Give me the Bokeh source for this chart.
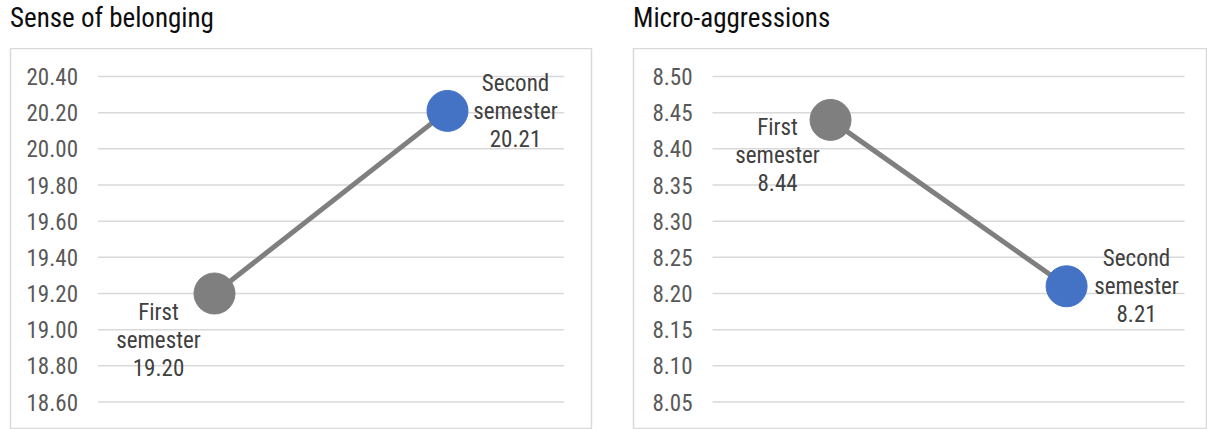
from bokeh.plotting import figure
from bokeh.layouts import row, column
from bokeh.models import Range1d, Div
from bokeh.core.properties import value
from bokeh.embed import file_html
from bokeh.resources import INLINE

# ---------------- data ----------------
categories = ["First semester", "Second semester"]
belonging_values = [19.20, 20.21]
micro_values = [8.44, 8.21]
belonging_ticks = [18.60, 18.80, 19.00, 19.20, 19.40, 19.60, 19.80, 20.00, 20.20, 20.40]
micro_ticks = [8.05, 8.10, 8.15, 8.20, 8.25, 8.30, 8.35, 8.40, 8.45, 8.50]
chart_titles = ["Sense of belonging", "Micro-aggressions"]

# ---------------- styles / layout ----------------
point_colors = ["#7f7f7f", "#4472c4"]
FONT = "Roboto Condensed"
TITLE_H = 48
HEIGHT = 429 - TITLE_H


def make_title(text, width, pad_left):
    return Div(text=f'<div style="padding:5px 0 0 {pad_left}px; margin:0; font-family:\'{FONT}\'; '
                    f'font-size:27px; line-height:27px; color:#0d0d0d; white-space:nowrap;">{text}</div>',
               width=width, height=TITLE_H, margin=(0, 0, 0, 0))


def make_chart(values, ticks, y_range, x_range, width, b_left, b_right, label_offsets):
    p = figure(width=width, height=HEIGHT, x_axis_type=None, y_axis_type=None,
               output_backend="svg", toolbar_location=None,
               min_border_left=b_left, min_border_right=b_right,
               min_border_top=0, min_border_bottom=0,
               x_range=Range1d(*x_range), y_range=Range1d(*y_range))
    p.background_fill_color = "white"
    p.border_fill_color = "white"
    p.outline_line_color = "#d9d9d9"
    p.outline_line_width = 1.5

    n = len(categories)
    xs = list(range(n))
    # horizontal gridlines spanning the category band
    p.segment(x0=[-0.5] * len(ticks), x1=[n - 0.5] * len(ticks), y0=ticks, y1=ticks,
              line_color="#d9d9d9", line_width=1.5)
    # y tick labels
    p.text(x=[-0.5] * len(ticks), y=ticks, text=[f"{t:.2f}" for t in ticks],
           x_offset=-20, text_align="right", text_baseline="middle",
           text_font=value(FONT), text_font_size="23px", text_color="#595959")
    # line and markers
    p.line(xs, values, line_color="#7f7f7f", line_width=5)
    p.scatter(xs, values, size=41, fill_color=point_colors, line_color=point_colors)
    # data labels
    for i, (cat, v) in enumerate(zip(categories, values)):
        dx, dy = label_offsets[i]
        lab = cat.replace(" ", "\n") + "\n" + f"{v:.2f}"
        p.text(x=[i], y=[v], text=[lab], x_offset=dx, y_offset=dy,
               text_align="center", text_baseline="middle", text_line_height=1.04,
               text_font=value(FONT), text_font_size="23px", text_color="#404040")
    return p


# frame spans 48 -> 429 px; gridline at top tick sits 28 px below frame top
p1 = make_chart(belonging_values, belonging_ticks,
                (18.448, 20.555), (-0.8755, 1.618), 620, 10, 29,
                [(-56, 47), (68, 1)])
p2 = make_chart(micro_values, micro_ticks,
                (8.012, 8.5387), (-0.8347, 1.597), 587, 13, 0,
                [(-53, 36), (70, 0)])

t1 = make_title(chart_titles[0], 620, 10)
t2 = make_title(chart_titles[1], 587, 13)

layout = row(column(t1, p1, spacing=0), column(t2, p2, spacing=0), spacing=0)
open("out.html", "w").write(file_html(layout, INLINE))
